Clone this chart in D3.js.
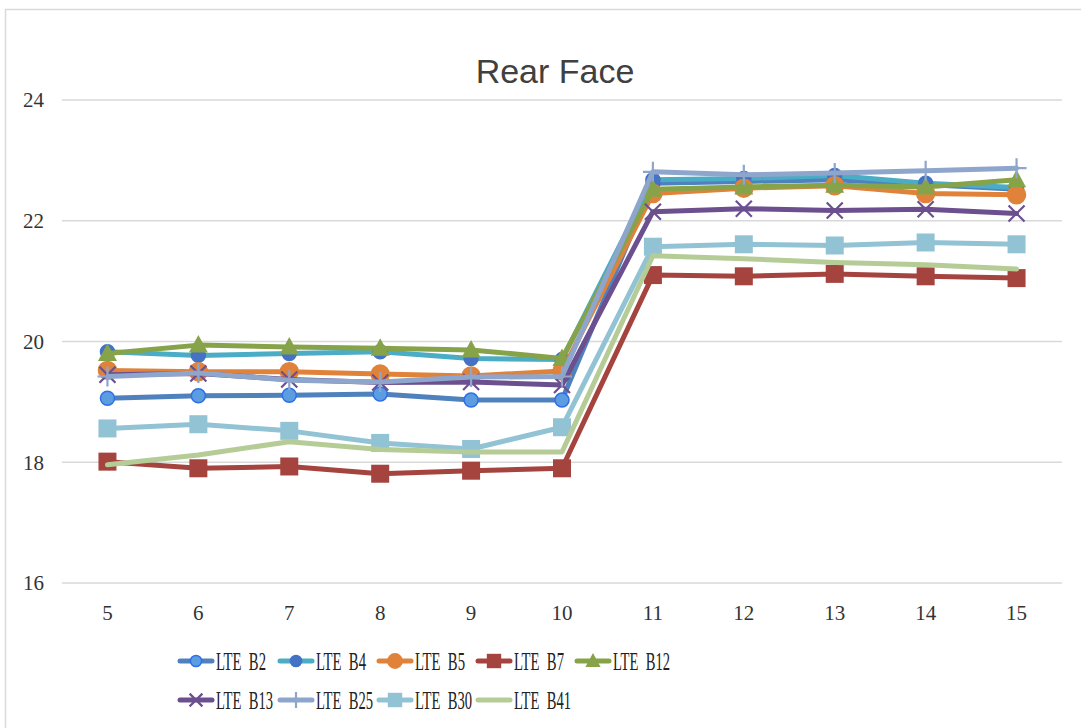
<!DOCTYPE html>
<html><head><meta charset="utf-8">
<script src="https://cdn.jsdelivr.net/npm/d3@7"></script>
<style>body{margin:0;background:#fff}svg{display:block}text{white-space:pre}</style>
</head><body>
<svg id="c" width="1081" height="728"></svg>
<script>
const categories = [5,6,7,8,9,10,11,12,13,14,15];
const yTicks = [16,18,20,22,24];
const seriesNames = ["LTE  B2","LTE  B4","LTE  B5","LTE  B7","LTE  B12","LTE  B13","LTE  B25","LTE  B30","LTE  B41"];
const b2  = [19.06,19.10,19.11,19.13,19.03,19.03,22.62,22.65,22.68,22.60,22.52];
const b4  = [19.83,19.77,19.80,19.83,19.72,19.70,22.68,22.70,22.75,22.62,22.55];
const b5  = [19.52,19.50,19.50,19.46,19.43,19.51,22.45,22.54,22.58,22.45,22.43];
const b7  = [18.01,17.90,17.93,17.81,17.86,17.90,21.10,21.08,21.12,21.08,21.05];
const b12 = [19.80,19.94,19.91,19.89,19.86,19.72,22.52,22.56,22.59,22.56,22.68];
const b13 = [19.45,19.47,19.37,19.32,19.33,19.28,22.15,22.20,22.17,22.19,22.12];
const b25 = [19.42,19.48,19.36,19.33,19.41,19.42,22.81,22.76,22.79,22.83,22.87];
const b30 = [18.56,18.63,18.52,18.32,18.22,18.58,21.57,21.61,21.59,21.64,21.61];
const b41 = [17.96,18.12,18.34,18.21,18.17,18.17,21.42,21.37,21.31,21.27,21.20];
const seriesValues = [b2,b4,b5,b7,b12,b13,b25,b30,b41];

const styles = [
  {line:"#4f81bd", marker:"circle", fill:"#5b9de0", stroke:"#2f6fe8", r:7},
  {line:"#4bacc6", marker:"circle", fill:"#4472c4", stroke:"#4472c4", r:7},
  {line:"#e0823a", marker:"circle", fill:"#e0823a", stroke:"#e0823a", r:9},
  {line:"#a5443f", marker:"square", fill:"#a5443f", stroke:"#a5443f", r:9},
  {line:"#87a34a", marker:"triangle", fill:"#87a34a", stroke:"#87a34a", r:10},
  {line:"#6b4f8f", marker:"x", fill:"none", stroke:"#6b4f8f", r:8},
  {line:"#8ea5cc", marker:"plus", fill:"none", stroke:"#8ea5cc", r:10},
  {line:"#92c3d5", marker:"square", fill:"#92c3d5", stroke:"#92c3d5", r:9},
  {line:"#b5cc96", marker:"none", fill:"none", stroke:"none", r:0}
];

const svg = d3.select("#c");
svg.append("rect").attr("x",5.5).attr("y",9.5).attr("width",1100).attr("height",760)
  .attr("fill","#fff").attr("stroke","#d9d9d9").attr("stroke-width",1.5);

const x = d3.scaleBand().domain(categories).range([62,1062]);
const y = d3.scaleLinear().domain([16,24]).range([583,100]);
const cx = d => x(d) + x.bandwidth()/2;

svg.append("g").selectAll("line").data(yTicks).join("line")
  .attr("x1",62).attr("x2",1062).attr("y1",d=>y(d)).attr("y2",d=>y(d))
  .attr("stroke","#d9d9d9").attr("stroke-width",1.5);

const serif = "'Liberation Serif','DejaVu Serif',serif";
svg.append("g").selectAll("text").data(yTicks).join("text")
  .attr("x",44).attr("y",d=>y(d)).attr("dy","0.35em").attr("text-anchor","end")
  .attr("font-family",serif).attr("font-size",21).attr("fill","#333").text(d=>d);
svg.append("g").selectAll("text").data(categories).join("text")
  .attr("x",d=>cx(d)).attr("y",620).attr("text-anchor","middle")
  .attr("font-family",serif).attr("font-size",21).attr("fill","#333").text(d=>d);

svg.append("text").attr("x",555).attr("y",83).attr("text-anchor","middle")
  .attr("font-family","'Liberation Sans',Arial,sans-serif").attr("font-size",34)
  .attr("fill","#404040").text("Rear Face");

function drawMarker(g, s, px, py, k) {
  const r = s.r * k;
  if (s.marker==="circle") {
    g.append("circle").attr("cx",px).attr("cy",py).attr("r",r)
      .attr("fill",s.fill).attr("stroke",s.stroke).attr("stroke-width",1.5);
  } else if (s.marker==="square") {
    g.append("rect").attr("x",px-r).attr("y",py-r).attr("width",2*r).attr("height",2*r).attr("fill",s.fill);
  } else if (s.marker==="triangle") {
    g.append("path").attr("d",`M${px},${py-r}L${px+r*0.95},${py+r*0.75}L${px-r*0.95},${py+r*0.75}Z`).attr("fill",s.fill);
  } else if (s.marker==="x") {
    g.append("path").attr("d",`M${px-r},${py-r}L${px+r},${py+r}M${px-r},${py+r}L${px+r},${py-r}`)
      .attr("stroke",s.stroke).attr("stroke-width",2.2);
  } else if (s.marker==="plus") {
    g.append("path").attr("d",`M${px-r},${py}L${px+r},${py}M${px},${py-r}L${px},${py+r}`)
      .attr("stroke",s.stroke).attr("stroke-width",2.2);
  }
}

const line = d3.line().x((d,i)=>cx(categories[i])).y(d=>y(d));
seriesValues.forEach((vals,si)=>{
  const s = styles[si];
  const g = svg.append("g");
  g.append("path").attr("d",line(vals)).attr("fill","none").attr("stroke",s.line)
    .attr("stroke-width",5).attr("stroke-linejoin","round").attr("stroke-linecap","round");
  vals.forEach((v,i)=>drawMarker(g,s,cx(categories[i]),y(v),1));
});

const legX = [178,278,377,476,575];
const legY = [661,700];
seriesNames.forEach((n,i)=>{
  const row = i<5?0:1, col = i<5?i:i-5;
  const lx = legX[col], ly = legY[row];
  const s = styles[i];
  const g = svg.append("g");
  g.append("line").attr("x1",lx+2).attr("x2",lx+34).attr("y1",ly).attr("y2",ly)
    .attr("stroke",s.line).attr("stroke-width",5).attr("stroke-linecap","round");
  drawMarker(g,s,lx+18,ly,0.8);
  g.append("text").attr("x",lx+38).attr("y",ly).attr("dy","0.36em")
    .attr("font-family",serif).attr("font-size",25).attr("fill","#222")
    .attr("textLength", n.length>7 ? 57 : 50).attr("lengthAdjust","spacingAndGlyphs").text(n);
});
</script>
</body></html>
